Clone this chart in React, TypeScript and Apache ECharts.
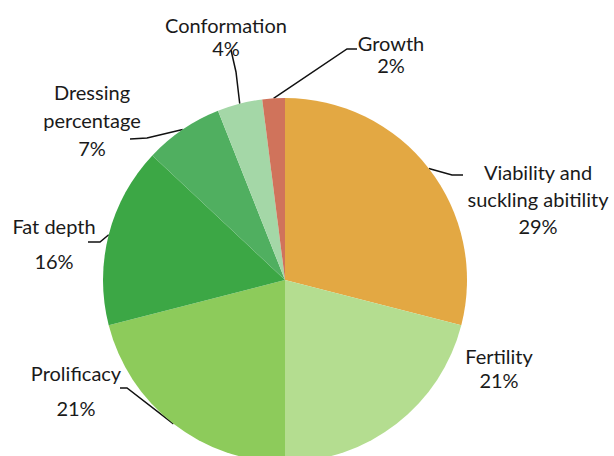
import React, { useEffect, useRef } from "react";
import * as echarts from "echarts";

const categories = [
  "Viability and\nsuckling abitility",
  "Fertility",
  "Prolificacy",
  "Fat depth",
  "Dressing\npercentage",
  "Conformation",
  "Growth",
];
const values = [29, 21, 21, 16, 7, 4, 2];
const colors = ["#E3A843", "#B4DD90", "#8DCB5B", "#3CA745", "#50AF60", "#A4D7A7", "#D0735B"];

// label placement (layout only)
const labelSpots: Record<number, { x: number; y: number; lh: number; line?: number[][] }> = {
  0: { x: 538, y: 199, lh: 27, line: [[452, 175], [463, 175]] },
  1: { x: 499, y: 368, lh: 24 },
  2: { x: 76, y: 390, lh: 35, line: [[127, 388], [120, 388]] },
  3: { x: 54, y: 243, lh: 35, line: [[100, 242], [88, 242]] },
  4: { x: 92, y: 120, lh: 28, line: [[147, 138], [130, 139]] },
  5: { x: 226, y: 36, lh: 23, line: [[236, 72], [231, 50]] },
  6: { x: 391, y: 54, lh: 22, line: [[347, 49], [357, 49]] },
};

export default function App() {
  const ref = useRef<HTMLDivElement>(null);
  useEffect(() => {
    document.body.style.margin = "0";
    const chart = echarts.init(ref.current!, undefined, { renderer: "svg" });
    chart.setOption({
      animation: false,
      backgroundColor: "#ffffff",
      series: [
        {
          type: "pie",
          center: [285, 280],
          radius: 182,
          startAngle: 90,
          clockwise: true,
          avoidLabelOverlap: false,
          data: categories.map((name, i) => ({
            name,
            value: values[i],
            itemStyle: { color: colors[i] },
            label: { lineHeight: labelSpots[i].lh },
            labelLine: { show: !!labelSpots[i].line },
          })),
          label: {
            show: true,
            position: "outside",
            formatter: (p: any) => `${p.name}\n${p.value}%`,
            fontFamily: "Lato",
            fontSize: 20,
            color: "#1a1a1a",
            align: "center",
          },
          labelLine: {
            show: true,
            length: 10,
            length2: 10,
            lineStyle: { color: "#111", width: 1.5 },
          },
          labelLayout: (params: any) => {
            const s = labelSpots[params.dataIndex];
            const out: any = { x: s.x, y: s.y, align: "center", verticalAlign: "middle", hideOverlap: false };
            if (s.line && params.labelLinePoints) {
              out.labelLinePoints = [params.labelLinePoints[0], s.line[0], s.line[1]];
            }
            return out;
          },
        },
      ],
    });
    return () => chart.dispose();
  }, []);
  return <div ref={ref} style={{ width: 614, height: 456 }} />;
}
